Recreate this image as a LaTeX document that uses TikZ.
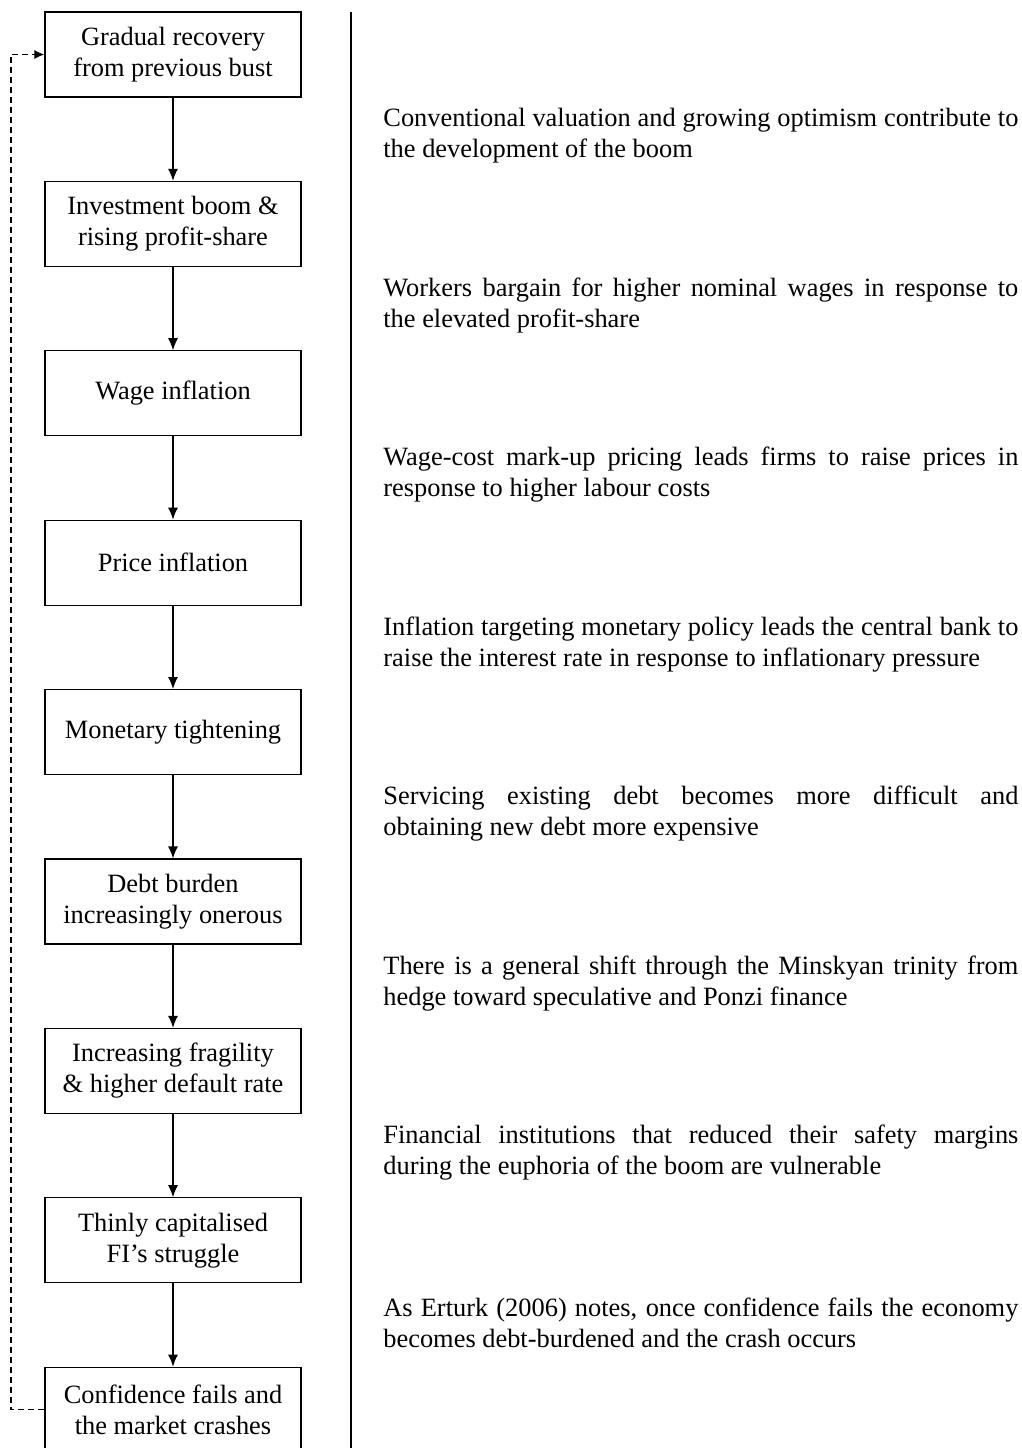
\documentclass[tikz,border=0pt]{standalone}
\usepackage{fontspec}
\setmainfont{Liberation Serif}
\usetikzlibrary{arrows.meta,positioning}
\hyphenpenalty=10000
\exhyphenpenalty=10000

\begin{document}
\begin{tikzpicture}[x=0.5pt,y=-0.5pt,
    stage/.style={draw, line width=0.6pt, minimum width=128pt, minimum height=42.5pt, align=center, inner sep=0pt, font=\fontsize{13.2}{15.5}\selectfont},
    note/.style={anchor=west, text width=317.5pt, align=justify, inner sep=0pt, font=\fontsize{13.2}{15.5}\selectfont},
    flow/.style={-{Latex[length=6pt,width=5pt]}, line width=0.6pt},
    loopback/.style={-{Latex[length=5pt,width=4.5pt]}, line width=0.6pt, dash pattern=on 3pt off 2pt}]
    \clip (0,0) rectangle (1022,1448);
    % stages of the cycle
    \node[stage] (recovery) at (173,54.5) {Gradual recovery\\from previous bust};
    \node[stage, below=41.6pt of recovery] (boom) {Investment boom \&\\rising profit-share};
    \node[stage, below=41.6pt of boom] (wages) {Wage inflation};
    \node[stage, below=41.6pt of wages] (prices) {Price inflation};
    \node[stage, below=41.6pt of prices] (tight) {Monetary tightening};
    \node[stage, below=41.6pt of tight] (debt) {Debt burden\\increasingly onerous};
    \node[stage, below=41.6pt of debt] (fragile) {Increasing fragility\\\& higher default rate};
    \node[stage, below=41.6pt of fragile] (struggle) {Thinly capitalised\\FI’s struggle};
    \node[stage, below=41.6pt of struggle] (crash) {Confidence fails and\\the market crashes};
    \draw[flow] (recovery) -- (boom);
    \draw[flow] (boom) -- (wages);
    \draw[flow] (wages) -- (prices);
    \draw[flow] (prices) -- (tight);
    \draw[flow] (tight) -- (debt);
    \draw[flow] (debt) -- (fragile);
    \draw[flow] (fragile) -- (struggle);
    \draw[flow] (struggle) -- (crash);
    \coordinate (back) at (11,700);
    \draw[loopback] (crash.west) -| (back) |- (recovery.west);
    % separator
    \coordinate (septop) at (351,12);
    \coordinate (sepbot) at (351,1448);
    \draw[line width=0.6pt] (septop) -- (sepbot);
    % explanations
    \node[note] (n1) at (383,136) {Conventional valuation and growing optimism contribute to\linebreak the development of the boom};
    \node[note] (n2) at (383,305.5) {Workers bargain for higher nominal wages in response to\linebreak the elevated profit-share};
    \node[note] (n3) at (383,475) {Wage-cost mark-up pricing leads firms to raise prices in\linebreak response to higher labour costs};
    \node[note] (n4) at (383,644.5) {Inflation targeting monetary policy leads the central bank to\linebreak raise the interest rate in response to inflationary pressure};
    \node[note] (n5) at (383,814) {Servicing existing debt becomes more difficult and\linebreak obtaining new debt more expensive};
    \node[note] (n6) at (383,983.5) {There is a general shift through the Minskyan trinity from\linebreak hedge toward speculative and Ponzi finance};
    \node[note] (n7) at (383,1153) {Financial institutions that reduced their safety margins\linebreak during the euphoria of the boom are vulnerable};
    \node[note] (n8) at (383,1322.5) {As Erturk (2006) notes, once confidence fails the economy\linebreak becomes debt-burdened and the crash occurs};
\end{tikzpicture}
\end{document}
